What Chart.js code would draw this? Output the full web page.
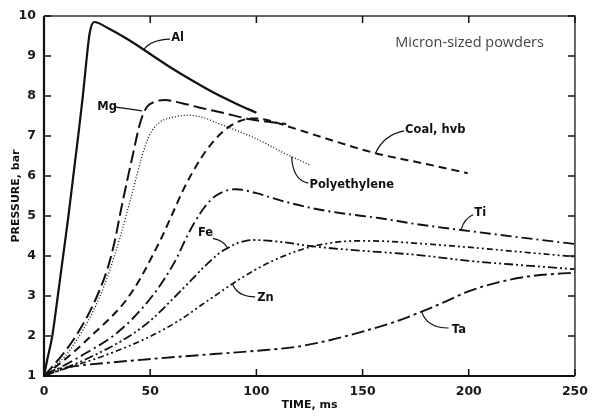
<!DOCTYPE html>
<html>
<head>
<meta charset="utf-8">
<script src="https://cdn.jsdelivr.net/npm/chart.js@4"></script>
<style>
  html, body { margin: 0; padding: 0; background: #fff; }
  canvas { display: block; }
</style>
</head>
<body>
<canvas id="c" width="596" height="416"></canvas>
<script>
// time (ms) / pressure (bar)
const alT = [0, 1.5, 3.9, 6.5, 9, 11.5, 13.8, 16.1, 18.3, 20.2, 21.6, 23.7, 30, 40, 50, 60, 70, 80, 90, 100];
const alP = [1, 1.4, 2, 3, 4, 5, 6, 7, 8, 9, 9.6, 9.85, 9.7, 9.4, 9.05, 8.7, 8.38, 8.08, 7.82, 7.58];

const mgT = [0, 5, 10, 15, 20, 25, 30, 33, 36.8, 41.5, 45.4, 48.5, 52.4, 57, 65, 72.5, 84.9, 97, 114];
const mgP = [1, 1.3, 1.62, 2, 2.45, 3, 3.7, 4.3, 5.3, 6.45, 7.35, 7.73, 7.86, 7.9, 7.82, 7.72, 7.57, 7.42, 7.3];

const polyT = [0, 5, 10, 16, 21, 26, 31, 36, 41.5, 46.1, 49.3, 53.9, 61.7, 68, 75, 81.8, 90, 100.4, 112, 125];
const polyP = [1, 1.25, 1.5, 1.95, 2.4, 2.95, 3.65, 4.5, 5.57, 6.48, 6.98, 7.32, 7.48, 7.52, 7.46, 7.32, 7.15, 6.92, 6.6, 6.28];

const coalT = [0, 6, 14, 23.2, 33, 38, 42, 46, 51, 55, 60, 66, 74, 80, 86.4, 92, 98.8, 105, 114.3, 135, 156, 180, 199.5];
const coalP = [1, 1.25, 1.6, 2.05, 2.55, 2.85, 3.15, 3.5, 4, 4.42, 5, 5.7, 6.45, 6.88, 7.2, 7.37, 7.44, 7.4, 7.25, 6.9, 6.57, 6.3, 6.07];

const tiT = [0, 10, 20, 32.5, 42, 51, 57, 62.7, 66.5, 71, 76, 80.2, 85, 90.3, 100, 112, 126.7, 140, 157.6, 175, 196.4, 225, 250];
const tiP = [1, 1.28, 1.58, 2, 2.45, 3, 3.45, 3.97, 4.4, 4.85, 5.25, 5.48, 5.62, 5.67, 5.57, 5.38, 5.19, 5.07, 4.95, 4.8, 4.65, 4.46, 4.3];

const feT = [0, 10, 23, 40.3, 50, 62, 69, 74.3, 82, 86.5, 90, 95, 99, 112, 125, 150, 175, 200, 225, 250];
const feP = [1, 1.2, 1.5, 2, 2.38, 3, 3.38, 3.67, 4.05, 4.2, 4.3, 4.38, 4.4, 4.35, 4.25, 4.13, 4.03, 3.88, 3.77, 3.67];

const znT = [0, 12, 28, 49.6, 64.6, 74.3, 82, 88, 100, 112, 125, 137, 148, 160, 180, 204, 225, 250];
const znP = [1, 1.22, 1.5, 1.98, 2.42, 2.78, 3.06, 3.28, 3.67, 3.98, 4.22, 4.34, 4.38, 4.37, 4.3, 4.2, 4.1, 3.98];

const taT = [0, 5, 10, 18, 30, 49, 80, 100, 119, 135, 150, 165, 177.8, 189, 199.5, 213, 227, 240, 250];
const taP = [1, 1.15, 1.21, 1.27, 1.33, 1.42, 1.55, 1.63, 1.73, 1.9, 2.11, 2.35, 2.61, 2.86, 3.11, 3.33, 3.48, 3.55, 3.58];

const xTicks = [0, 50, 100, 150, 200, 250];
const yTicks = [1, 2, 3, 4, 5, 6, 7, 8, 9, 10];

// curve labels: text spot and a leader from the curve to the text (data coords)
const notes = [
  { text: "Al", at: [59.9, 9.45], from: [46.9, 9.15], ctrl: [50, 9.4], to: [59.3, 9.42] },
  { text: "Mg", at: [25.1, 7.72], from: [46.1, 7.63], ctrl: [40, 7.68], to: [33.8, 7.72] },
  { text: "Coal, hvb", at: [170, 7.15], from: [156.1, 6.57], ctrl: [159.9, 7.03], to: [169.6, 7.13] },
  { text: "Polyethylene", at: [125, 5.78], from: [116.6, 6.48], ctrl: [117.1, 5.9], to: [124.4, 5.82] },
  { text: "Ti", at: [202.6, 5.08], from: [196.4, 4.65], ctrl: [197.9, 4.95], to: [202.1, 5.03] },
  { text: "Fe", at: [72.5, 4.58], from: [86.5, 4.2], ctrl: [84.1, 4.4], to: [79.5, 4.44] },
  { text: "Zn", at: [100.4, 2.95], from: [88.8, 3.3], ctrl: [91.1, 2.98], to: [99.4, 2.98] },
  { text: "Ta", at: [192, 2.15], from: [177.8, 2.61], ctrl: [180.3, 2.2], to: [190.5, 2.2] }
];

const pts = (t, p) => t.map((v, i) => ({ x: v, y: p[i] }));

const series = [
  { label: "Al", data: pts(alT, alP), dash: [], w: 2.2 },
  { label: "Mg", data: pts(mgT, mgP), dash: [13, 5], w: 2 },
  { label: "Polyethylene", data: pts(polyT, polyP), dash: [1, 2], w: 1.3 },
  { label: "Coal, hvb", data: pts(coalT, coalP), dash: [8, 5], w: 2 },
  { label: "Ti", data: pts(tiT, tiP), dash: [11, 4, 2, 4], w: 1.9 },
  { label: "Fe", data: pts(feT, feP), dash: [9, 3, 2, 3, 2, 3], w: 1.8 },
  { label: "Zn", data: pts(znT, znP), dash: [6, 3, 2, 3, 2, 3], w: 1.7 },
  { label: "Ta", data: pts(taT, taP), dash: [13, 4, 3, 4], w: 1.9 }
];

const labelFont = 'bold 11.5px "DejaVu Sans"';
const tickFont = { family: "DejaVu Sans", weight: "bold", size: 12.5 };

const framePlugin = {
  id: "frame",
  afterDraw(chart) {
    const { ctx, chartArea: a, scales: { x, y } } = chart;
    ctx.save();
    // heavy left/bottom axes, lighter top/right
    ctx.strokeStyle = "#333";
    ctx.lineWidth = 1.5;
    ctx.beginPath();
    ctx.moveTo(a.left, a.top); ctx.lineTo(a.right, a.top); ctx.lineTo(a.right, a.bottom);
    ctx.stroke();
    ctx.strokeStyle = "#111";
    ctx.lineWidth = 2.2;
    ctx.beginPath();
    ctx.moveTo(a.left, a.top); ctx.lineTo(a.left, a.bottom); ctx.lineTo(a.right, a.bottom);
    ctx.stroke();

    // inward ticks on all four sides
    ctx.lineWidth = 1.5;
    ctx.beginPath();
    yTicks.forEach(v => {
      const py = y.getPixelForValue(v);
      ctx.moveTo(a.left, py); ctx.lineTo(a.left + 7, py);
      ctx.moveTo(a.right, py); ctx.lineTo(a.right - 7, py);
    });
    xTicks.forEach(v => {
      const px = x.getPixelForValue(v);
      ctx.moveTo(px, a.bottom); ctx.lineTo(px, a.bottom - 7);
      ctx.moveTo(px, a.top); ctx.lineTo(px, a.top + 7);
    });
    ctx.stroke();

    // curve labels + leaders
    ctx.lineWidth = 1.2;
    ctx.font = labelFont;
    ctx.fillStyle = "#111";
    ctx.textBaseline = "middle";
    ctx.textAlign = "left";
    notes.forEach(n => {
      const P = q => [x.getPixelForValue(q[0]), y.getPixelForValue(q[1])];
      const f = P(n.from), c = P(n.ctrl), t = P(n.to), s = P(n.at);
      ctx.beginPath();
      ctx.moveTo(f[0], f[1]);
      ctx.quadraticCurveTo(c[0], c[1], t[0], t[1]);
      ctx.stroke();
      ctx.fillText(n.text, s[0], s[1]);
    });

    ctx.font = '14.5px "Open Sans"';
    ctx.fillStyle = "#444";
    ctx.fillText("Micron-sized powders", x.getPixelForValue(165.4), y.getPixelForValue(9.33));
    ctx.restore();
  }
};

new Chart(document.getElementById("c"), {
  type: "line",
  data: {
    datasets: series.map(s => ({
      label: s.label,
      data: s.data,
      borderColor: "#111",
      borderWidth: s.w,
      borderDash: s.dash,
      pointRadius: 0,
      fill: false,
      cubicInterpolationMode: "monotone"
    }))
  },
  options: {
    responsive: false,
    animation: false,
    devicePixelRatio: 1,
    layout: { padding: { top: 16, right: 14, left: 0, bottom: 0 } },
    plugins: { legend: { display: false }, tooltip: { enabled: false } },
    scales: {
      x: {
        type: "linear",
        min: 0,
        max: 250,
        afterFit: s => { s.height = 40; },
        afterBuildTicks: s => { s.ticks = xTicks.map(v => ({ value: v })); },
        grid: { display: false, drawTicks: false },
        border: { display: false },
        ticks: { padding: 8, color: "#1a1a1a", font: tickFont },
        title: { display: true, text: "TIME, ms", color: "#111", padding: { top: 0, bottom: 4 },
                 font: { family: "DejaVu Sans", weight: "bold", size: 11 } }
      },
      y: {
        min: 1,
        max: 10,
        afterFit: s => { s.width = 44; },
        afterBuildTicks: s => { s.ticks = yTicks.map(v => ({ value: v })); },
        grid: { display: false, drawTicks: false },
        border: { display: false },
        ticks: { padding: 8, color: "#1a1a1a", font: tickFont },
        title: { display: true, text: "PRESSURE, bar", color: "#111", padding: { top: 10, bottom: 0 },
                 font: { family: "DejaVu Sans", weight: "bold", size: 11 } }
      }
    }
  },
  plugins: [framePlugin]
});
</script>
</body>
</html>
